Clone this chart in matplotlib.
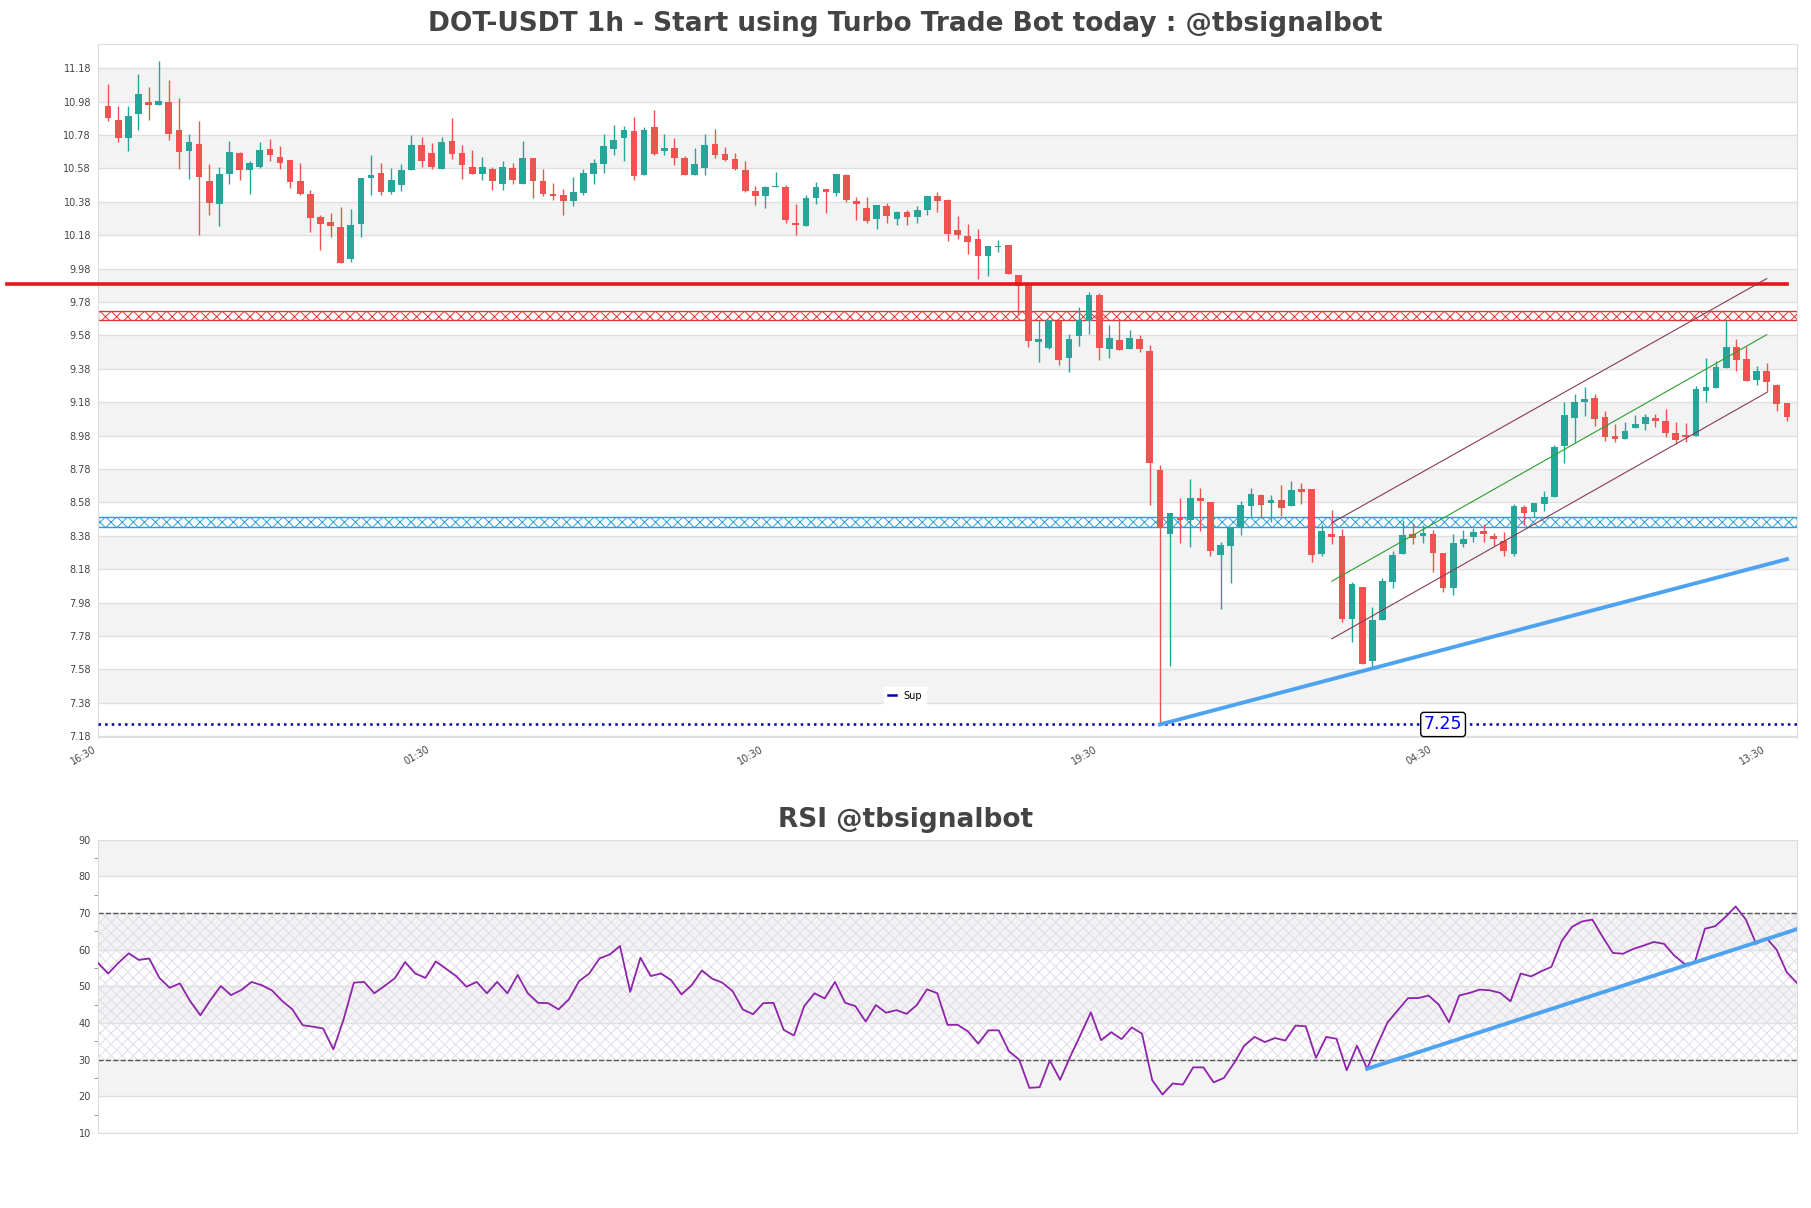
# Libraries
import matplotlib.pyplot as plt
import numpy as np

plt.rcParams['hatch.linewidth'] = 0.7

# Set data (1h candles)
opens = [10.951, 10.871, 10.759, 10.903, 10.977, 10.957, 10.979, 10.811, 10.685, 10.727,
         10.506, 10.364, 10.544, 10.673, 10.568, 10.588, 10.697, 10.650, 10.628, 10.506,
         10.428, 10.287, 10.261, 10.231, 10.039, 10.245, 10.520, 10.554, 10.436, 10.478,
         10.568, 10.721, 10.675, 10.579, 10.745, 10.675, 10.589, 10.549, 10.579, 10.489,
         10.583, 10.489, 10.645, 10.507, 10.428, 10.422, 10.382, 10.434, 10.549, 10.609,
         10.699, 10.759, 10.801, 10.543, 10.826, 10.683, 10.705, 10.645, 10.543, 10.585,
         10.729, 10.669, 10.639, 10.570, 10.445, 10.417, 10.471, 10.469, 10.254, 10.234,
         10.403, 10.457, 10.433, 10.540, 10.387, 10.343, 10.278, 10.355, 10.274, 10.321,
         10.286, 10.333, 10.417, 10.393, 10.212, 10.178, 10.158, 10.053, 10.112, 10.122,
         9.943, 9.880, 9.541, 9.505, 9.664, 9.447, 9.574, 9.664, 9.820, 9.497,
         9.554, 9.497, 9.560, 9.487, 8.776, 8.389, 8.487, 8.473, 8.608, 8.582,
         8.263, 8.317, 8.433, 8.556, 8.626, 8.574, 8.596, 8.556, 8.662, 8.662,
         8.273, 8.392, 8.376, 7.879, 8.072, 7.629, 7.877, 8.106, 8.268, 8.388,
         8.376, 8.392, 8.278, 8.066, 8.328, 8.372, 8.408, 8.376, 8.346, 8.268,
         8.555, 8.525, 8.571, 8.611, 8.918, 9.088, 9.180, 9.204, 9.090, 8.978,
         8.960, 9.028, 9.050, 9.084, 9.070, 8.994, 8.982, 8.980, 9.248, 9.264,
         9.384, 9.508, 9.438, 9.314, 9.364, 9.280, 9.174]
highs = [11.086, 10.953, 10.953, 11.146, 11.066, 11.226, 11.110, 11.003, 10.787, 10.863,
         10.608, 10.588, 10.743, 10.681, 10.622, 10.739, 10.757, 10.715, 10.632, 10.614,
         10.448, 10.303, 10.313, 10.348, 10.338, 10.524, 10.662, 10.614, 10.584, 10.608,
         10.777, 10.767, 10.730, 10.769, 10.880, 10.723, 10.693, 10.649, 10.589, 10.625,
         10.615, 10.745, 10.645, 10.579, 10.495, 10.458, 10.529, 10.579, 10.639, 10.783,
         10.840, 10.836, 10.886, 10.830, 10.928, 10.783, 10.759, 10.653, 10.705, 10.783,
         10.814, 10.709, 10.675, 10.626, 10.477, 10.477, 10.556, 10.480, 10.367, 10.421,
         10.496, 10.457, 10.546, 10.546, 10.407, 10.407, 10.361, 10.373, 10.327, 10.333,
         10.353, 10.417, 10.441, 10.397, 10.297, 10.248, 10.218, 10.114, 10.152, 10.122,
         9.943, 9.880, 9.671, 9.671, 9.664, 9.590, 9.750, 9.840, 9.836, 9.644,
         9.676, 9.614, 9.584, 9.525, 8.802, 8.519, 8.606, 8.722, 8.668, 8.582,
         8.343, 8.433, 8.588, 8.668, 8.632, 8.622, 8.686, 8.706, 8.696, 8.662,
         8.453, 8.535, 8.418, 8.106, 8.072, 7.952, 8.126, 8.286, 8.475, 8.455,
         8.447, 8.416, 8.278, 8.392, 8.416, 8.426, 8.451, 8.398, 8.402, 8.571,
         8.565, 8.575, 8.647, 8.925, 9.180, 9.228, 9.270, 9.228, 9.130, 9.048,
         9.060, 9.104, 9.108, 9.108, 9.138, 9.064, 9.054, 9.274, 9.444, 9.424,
         9.674, 9.558, 9.514, 9.394, 9.414, 9.288, 9.174]
lows = [10.861, 10.735, 10.687, 10.807, 10.867, 10.957, 10.751, 10.574, 10.514, 10.179,
        10.299, 10.233, 10.488, 10.508, 10.424, 10.580, 10.622, 10.574, 10.464, 10.418,
        10.197, 10.089, 10.169, 10.013, 10.019, 10.169, 10.418, 10.420, 10.426, 10.444,
        10.568, 10.586, 10.579, 10.579, 10.635, 10.515, 10.549, 10.509, 10.448, 10.448,
        10.485, 10.485, 10.404, 10.412, 10.388, 10.302, 10.352, 10.418, 10.485, 10.555,
        10.659, 10.627, 10.509, 10.543, 10.659, 10.663, 10.599, 10.543, 10.539, 10.539,
        10.645, 10.623, 10.569, 10.437, 10.363, 10.343, 10.467, 10.252, 10.182, 10.234,
        10.367, 10.313, 10.417, 10.381, 10.272, 10.252, 10.218, 10.254, 10.238, 10.238,
        10.254, 10.303, 10.317, 10.148, 10.158, 10.069, 9.915, 9.933, 10.079, 9.945,
        9.704, 9.511, 9.418, 9.501, 9.401, 9.361, 9.515, 9.586, 9.431, 9.445,
        9.491, 9.497, 9.481, 8.562, 7.250, 7.598, 8.337, 8.313, 8.407, 8.259,
        7.940, 8.099, 8.383, 8.497, 8.487, 8.463, 8.499, 8.556, 8.568, 8.223,
        8.259, 8.328, 7.863, 7.743, 7.613, 7.583, 7.877, 8.068, 8.268, 8.328,
        8.336, 8.162, 8.042, 8.028, 8.312, 8.342, 8.342, 8.316, 8.256, 8.256,
        8.445, 8.495, 8.531, 8.611, 8.814, 8.934, 9.100, 9.038, 8.948, 8.944,
        8.960, 9.028, 9.014, 9.034, 8.974, 8.930, 8.944, 8.980, 9.180, 9.264,
        9.384, 9.368, 9.308, 9.284, 9.240, 9.130, 9.068]
closes = [10.879, 10.759, 10.895, 11.026, 10.957, 10.985, 10.787, 10.681, 10.739, 10.526,
          10.370, 10.548, 10.677, 10.568, 10.614, 10.691, 10.658, 10.610, 10.500, 10.424,
          10.281, 10.249, 10.237, 10.015, 10.243, 10.524, 10.542, 10.436, 10.510, 10.570,
          10.721, 10.622, 10.589, 10.739, 10.669, 10.603, 10.549, 10.589, 10.503, 10.589,
          10.509, 10.645, 10.503, 10.428, 10.416, 10.382, 10.438, 10.555, 10.615, 10.717,
          10.747, 10.807, 10.537, 10.807, 10.669, 10.705, 10.645, 10.543, 10.609, 10.723,
          10.659, 10.633, 10.575, 10.445, 10.417, 10.469, 10.477, 10.272, 10.238, 10.401,
          10.469, 10.441, 10.546, 10.391, 10.367, 10.264, 10.361, 10.297, 10.321, 10.286,
          10.333, 10.417, 10.387, 10.188, 10.182, 10.142, 10.053, 10.114, 10.118, 9.945,
          9.874, 9.545, 9.561, 9.671, 9.431, 9.560, 9.670, 9.820, 9.507, 9.564,
          9.491, 9.566, 9.497, 8.816, 8.427, 8.519, 8.475, 8.606, 8.586, 8.287,
          8.327, 8.433, 8.566, 8.632, 8.562, 8.596, 8.548, 8.656, 8.642, 8.263,
          8.409, 8.372, 7.879, 8.092, 7.613, 7.877, 8.110, 8.262, 8.382, 8.368,
          8.398, 8.276, 8.066, 8.338, 8.362, 8.402, 8.388, 8.358, 8.286, 8.561,
          8.517, 8.575, 8.611, 8.911, 9.104, 9.180, 9.198, 9.080, 8.970, 8.960,
          9.010, 9.048, 9.090, 9.068, 8.994, 8.954, 8.974, 9.258, 9.268, 9.388,
          9.508, 9.434, 9.308, 9.364, 9.300, 9.170, 9.094]

rsi = [56.4, 53.5, 56.4, 59.0, 57.2, 57.6, 52.3, 49.6, 50.8, 46.0,
       42.1, 46.3, 50.1, 47.6, 49.0, 51.2, 50.3, 48.9, 46.0, 43.7,
       39.4, 39.0, 38.5, 32.8, 41.0, 51.0, 51.2, 48.1, 50.1, 52.2,
       56.6, 53.5, 52.3, 56.8, 54.8, 52.8, 49.9, 51.2, 48.1, 51.2,
       48.1, 53.1, 48.1, 45.5, 45.4, 43.7, 46.4, 51.4, 53.5, 57.6,
       58.7, 61.0, 48.5, 57.8, 52.8, 53.5, 51.7, 47.8, 50.3, 54.3,
       52.1, 51.0, 48.7, 43.7, 42.4, 45.4, 45.5, 38.1, 36.6, 44.6,
       48.1, 46.7, 51.2, 45.5, 44.6, 40.4, 44.9, 42.8, 43.5, 42.5,
       44.9, 49.2, 48.1, 39.5, 39.5, 37.7, 34.4, 38.0, 38.0, 32.3,
       30.0, 22.3, 22.5, 29.8, 24.5, 30.9, 36.8, 42.9, 35.3, 37.5,
       35.6, 38.8, 37.1, 24.4, 20.5, 23.5, 23.2, 27.9, 27.9, 23.8,
       25.0, 29.1, 33.8, 36.2, 34.8, 35.9, 35.2, 39.3, 39.1, 30.5,
       36.2, 35.7, 27.1, 33.8, 27.5, 34.1, 40.2, 43.5, 46.8, 46.8,
       47.5, 45.0, 40.2, 47.5, 48.2, 49.1, 48.9, 48.2, 45.9, 53.5,
       52.7, 54.1, 55.3, 62.3, 66.2, 67.7, 68.2, 63.5, 59.1, 58.9,
       60.2, 61.1, 62.1, 61.6, 58.4, 56.1, 56.5, 65.7, 66.4, 68.9,
       71.8, 68.2, 61.6, 63.2, 60.0, 53.8, 50.9]

# x tick positions and labels
tick_pos = [-1, 32, 65, 98, 131, 164]
tick_labels = ['16:30', '01:30', '10:30', '19:30', '04:30', '13:30']

# levels and trendlines
resistance = 9.89
res_zone = [9.67, 9.725]
sup_zone = [8.43, 8.49]
sup_level = 7.25
sup_line_x = [104, 166]
sup_line_y = [7.25, 8.24]
chan_x = [121, 164]
chan_low = [7.763, 9.238]
chan_mid = [8.108, 9.584]
chan_high = [8.457, 9.920]
rsi_line_x = [124, 166]
rsi_line_y = [27.5, 65.6]

green = '#26a69a'
red = '#ef5350'
blue = '#4da3f0'

fig = plt.figure(figsize=(18.11, 12.08), dpi=100)

# ------- PART 1: price chart
ax = fig.add_axes([0.0541, 0.3899, 0.9382, 0.5737])
ylo, yhi = 7.175, 11.325
ax.set_ylim(ylo, yhi)
ax.set_xlim(-1, 167)

levels = np.round(np.arange(7.18, 11.19, 0.2), 2)
for k, lv in enumerate(levels):
    if k % 2 == 1:
        ax.axhspan(lv, lv + 0.2, color='#f3f3f3', zorder=0, lw=0)
    ax.axhline(lv, color='#e0e0e0', lw=1, zorder=0.5)

# candles
x = np.arange(len(opens))
o = np.array(opens)
c = np.array(closes)
cols = [green if cc >= oo else red for oo, cc in zip(o, c)]
ax.vlines(x, lows, highs, colors=cols, lw=1.0, zorder=2)
body = np.maximum(np.abs(c - o), 0.006)
ax.bar(x, body, bottom=np.minimum(o, c), width=0.66, color=cols, zorder=3)

# resistance / support
ax.plot([-10, len(opens) - 1], [resistance, resistance], color='#e8151b', lw=2.6,
        clip_on=False, zorder=4)
ax.axhspan(res_zone[0], res_zone[1], facecolor='none', edgecolor='#e03535',
           hatch='xxx', lw=1, zorder=1)
ax.axhspan(sup_zone[0], sup_zone[1], facecolor='none', edgecolor='#2a9bd8',
           hatch='xxx', lw=1, zorder=1)
ax.axhline(sup_level, color='#0000b0', ls=':', lw=1.8, zorder=4)
ax.plot([], [], color='#0000b0', lw=1.8, label='Sup')
ax.text(132, sup_level, '7.25', color='#0000ee', fontsize=12.5, ha='center', va='center',
        zorder=6, bbox=dict(boxstyle='round,pad=0.18', fc='white', ec='black', lw=1))

ax.plot(sup_line_x, sup_line_y, color=blue, lw=2.8, zorder=5)
ax.plot(chan_x, chan_high, color='#8b3a55', lw=0.8, zorder=5)
ax.plot(chan_x, chan_mid, color='#2ca02c', lw=0.8, zorder=5)
ax.plot(chan_x, chan_low, color='#8b3a55', lw=0.8, zorder=5)

ax.set_yticks(levels)
ax.set_yticklabels(['%.2f' % v for v in levels])
ax.set_xticks(tick_pos)
ax.set_xticklabels(tick_labels, rotation=30, ha='right')
ax.tick_params(axis='both', labelsize=7, colors='#444444', length=0, pad=5)
for s in ax.spines.values():
    s.set_color('#dddddd')

leg = ax.legend(loc='lower center', bbox_to_anchor=(0.475, 0.04), fontsize=7,
                frameon=True, framealpha=1, edgecolor='white', fancybox=False,
                handlelength=0.8)

fig.text(0.5, 0.98, 'DOT-USDT 1h - Start using Turbo Trade Bot today : @tbsignalbot',
         ha='center', va='center', fontsize=19, fontweight='bold', color='#444444')

# ------- PART 2: RSI
ax2 = fig.add_axes([0.0541, 0.0621, 0.9382, 0.2428])
ax2.set_xlim(0, len(rsi) - 1)
ax2.set_ylim(10, 90)
for lv in [20, 40, 60, 80]:
    ax2.axhspan(lv, lv + 10, color='#f3f3f3', zorder=0, lw=0)
for lv in range(10, 91, 10):
    ax2.axhline(lv, color='#e0e0e0', lw=1, zorder=0.5)
ax2.fill_between([0, len(rsi) - 1], 30, 70, facecolor='none', hatch='xxx',
                 edgecolor='#e2dbe8', lw=0, zorder=1)
ax2.axhline(70, color='#555555', ls='--', lw=1, zorder=2)
ax2.axhline(30, color='#555555', ls='--', lw=1, zorder=2)
ax2.plot(range(len(rsi)), rsi, color='#8e24aa', lw=1.3, zorder=3)
ax2.plot(rsi_line_x, rsi_line_y, color=blue, lw=2.8, zorder=4)

ax2.set_yticks(range(10, 91, 10))
ax2.set_yticks(range(15, 90, 10), minor=True)
ax2.set_xticks([])
ax2.tick_params(axis='y', which='major', labelsize=7, colors='#444444', length=0, pad=5)
ax2.tick_params(axis='y', which='minor', length=3, color='#888888')
for s in ax2.spines.values():
    s.set_color('#dddddd')

fig.text(0.5, 0.3212, 'RSI @tbsignalbot', ha='center', va='center', fontsize=19,
         fontweight='bold', color='#444444')

plt.savefig('out.png', dpi=100)
